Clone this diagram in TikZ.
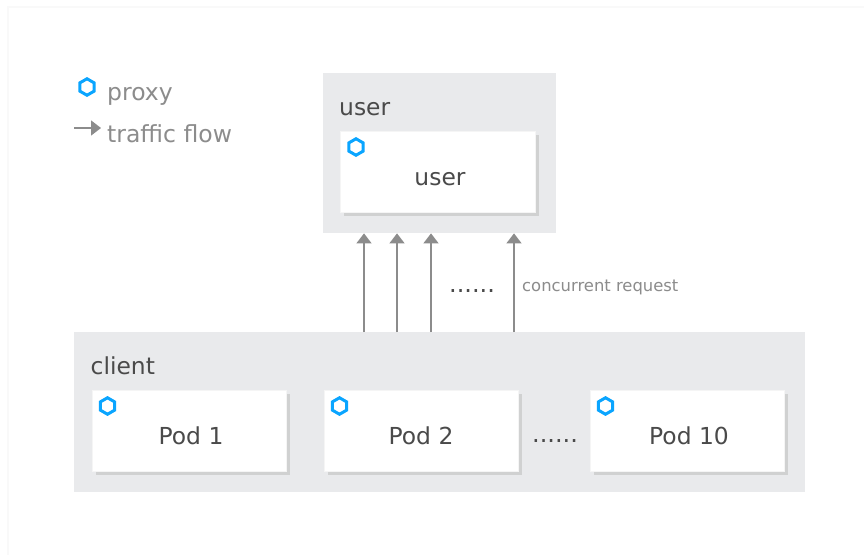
\documentclass[tikz,border=0pt]{standalone}
\usepackage{fontspec}
\setmainfont{DejaVu Sans}
\usetikzlibrary{arrows.meta,positioning,shapes.geometric}
\definecolor{groupgray}{HTML}{E9EAEC}
\definecolor{shadowgray}{HTML}{D0D1D1}
\definecolor{textdark}{HTML}{4A4A4A}
\definecolor{textgray}{HTML}{8C8C8C}
\definecolor{proxyblue}{HTML}{0AA5FF}
\definecolor{framegray}{HTML}{F9F9F9}
\tikzset{
  group/.style={fill=groupgray, inner sep=0pt, anchor=north west},
  pod/.style={fill=white, draw=white!96!black, line width=0.6pt, inner sep=0pt, anchor=north west},
  podshade/.style={fill=shadowgray, inner sep=0pt, anchor=north west},
  proxy/.style={regular polygon, regular polygon sides=6, shape border rotate=30, draw=proxyblue,
    line width=3pt, inner sep=0pt, minimum size=16.5pt},
  title/.style={text=textdark, font=\fontsize{23.4}{26}\selectfont, anchor=base west, inner sep=0pt},
  label/.style={text=textdark, font=\fontsize{23.4}{26}\selectfont, anchor=base, inner sep=0pt},
  legend/.style={text=textgray, font=\fontsize{23.5}{26}\selectfont, anchor=base west, inner sep=0pt},
  flow/.style={draw=textgray, line width=1.5pt, -{Triangle[length=10pt,width=15pt]}}
}
\begin{document}
\begin{tikzpicture}[x=1pt, y=-1pt]
   \useasboundingbox (0,0) rectangle (864,555);
   \fill[framegray] (7,6) rectangle (864,555);
   \fill[white] (9,8) rectangle (864,555);

   % legend
   \node[proxy] (legendproxy) at (87,87) {};
   \node[legend] (proxylabel) at (107,100) {proxy};
   \coordinate (legendtail) at (74,128);
   \coordinate (legendhead) at (101,128);
   \draw[flow] (legendtail) -- (legendhead);
   \node[legend] (flowlabel) at (107,142) {traffic flow};

   % user
   \node[group, minimum width=233pt, minimum height=160pt] (usergroup) at (323,73) {};
   \node[title] (usertitle) at (339,115) {user};
   \node[podshade, minimum width=195pt, minimum height=81pt] (usershade) at (343.5,135) {};
   \node[pod, minimum width=195pt, minimum height=81pt] (userpod) at (340,131) {};
   \node[proxy] (userproxy) at (356,147) {};
   \node[label] (userlabel) at (440,185) {user};

   % client
   \node[group, minimum width=731pt, minimum height=159.5pt] (clientgroup) at (74,332) {};
   \node[title] (clienttitle) at (90.5,374) {client};
   \foreach \name/\x/\y/\lab in {podone/91.5/191/Pod 1, podtwo/323.5/421/Pod 2, podten/589.5/689/Pod 10} {
     \node[podshade, minimum width=194pt, minimum height=81pt] (\name shade) at (\x+4,394) {};
     \node[pod, minimum width=194pt, minimum height=81pt] (\name) at (\x,390) {};
     \node[proxy] (\name proxy) at (\x+16,406) {};
     \node[label] (\name label) at (\y,444) {\lab};
   }
   \node[label, font=\fontsize{24}{26}\selectfont] (poddots) at (555,442) {......};

   % requests
   \foreach \x in {364,397,431,514} {
     \draw[flow] (clientgroup.north west -| \x,0) -- (usergroup.south west -| \x,0);
   }
   \node[label, font=\fontsize{24}{26}\selectfont] (flowdots) at (472,292) {......};
   \node[text=textgray, font=\fontsize{16.4}{18}\selectfont, inner sep=0pt, anchor=base west] (requestlabel) at (522,291) {concurrent request};
\end{tikzpicture}
\end{document}
